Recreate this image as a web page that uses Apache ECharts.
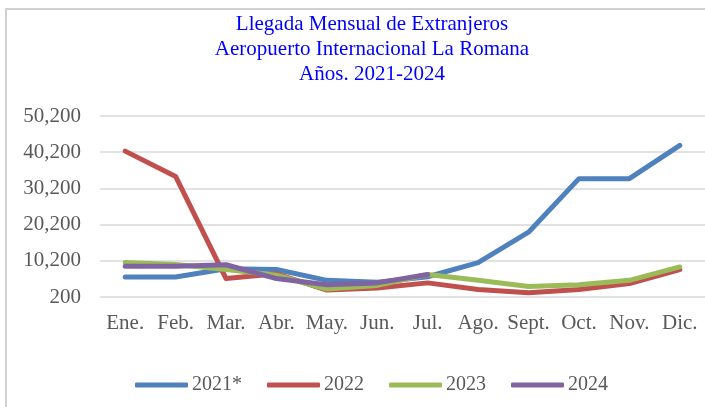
<!DOCTYPE html>
<html>
<head>
<meta charset="utf-8">
<script src="https://cdn.jsdelivr.net/npm/echarts@6/dist/echarts.min.js"></script>
<style>
html, body { margin: 0; padding: 0; background: #fff; }
#chart { width: 705px; height: 407px; }
</style>
</head>
<body>
<div id="chart"></div>
<script>
// meses
var meses = ['Ene.', 'Feb.', 'Mar.', 'Abr.', 'May.', 'Jun.', 'Jul.', 'Ago.', 'Sept.', 'Oct.', 'Nov.', 'Dic.'];
// llegadas por año
var serie2021 = [5700, 5700, 8000, 7800, 4800, 4300, 5800, 9700, 18100, 32900, 32900, 42100];
var serie2022 = [40500, 33500, 5300, 6600, 2100, 2700, 4100, 2300, 1400, 2300, 3900, 7800];
var serie2023 = [9700, 9200, 7800, 6200, 2400, 3400, 6400, 4800, 3100, 3600, 4800, 8500];
var serie2024 = [8700, 8700, 9100, 5300, 3600, 4100, 6400];
var nombres = ['2021*', '2022', '2023', '2024'];
var colores = ['#4f81bd', '#c0504d', '#9bbb59', '#8064a2'];

var fuente = 'Liberation Serif';

function linea(nombre, datos, color) {
    return {
        name: nombre,
        type: 'line',
        data: datos,
        symbol: 'none',
        color: color,
        lineStyle: { width: 5, color: color, cap: 'round', join: 'round' }
    };
}

var myChart = echarts.init(document.getElementById('chart'));
var option = {
    animation: false,
    backgroundColor: '#fff',
    title: {
        text: 'Llegada Mensual de Extranjeros\nAeropuerto Internacional La Romana\nAños. 2021-2024',
        left: 367,
        textAlign: 'center',
        top: 7,
        textStyle: {
            color: '#0000ff',
            fontFamily: fuente,
            fontWeight: 'normal',
            fontSize: 21,
            lineHeight: 25
        }
    },
    graphic: [{
        type: 'rect',
        shape: { x: 6, y: 9, width: 720, height: 420 },
        style: { fill: 'none', stroke: '#d0d0d0', lineWidth: 2 },
        silent: true
    }],
    legend: {
        left: 130,
        top: 370,
        itemWidth: 53,
        itemHeight: 5,
        itemGap: 25,
        icon: 'roundRect',
        data: nombres,
        textStyle: { color: '#595959', fontFamily: fuente, fontSize: 20, padding: [0, 0, 0, -1] }
    },
    grid: {
        left: 100,
        right: 0,
        top: 116,
        bottom: 110,
        containLabel: false
    },
    xAxis: {
        type: 'category',
        data: meses,
        boundaryGap: true,
        axisLine: { show: false },
        axisTick: { show: false },
        axisLabel: {
            color: '#595959',
            fontFamily: fuente,
            fontSize: 21,
            margin: 16,
            interval: 0
        }
    },
    yAxis: {
        type: 'value',
        min: 200,
        max: 50200,
        interval: 10000,
        axisLine: { show: false },
        axisTick: { show: false },
        axisLabel: {
            color: '#595959',
            fontFamily: fuente,
            fontSize: 21,
            margin: 19,
            formatter: function (v) { return v.toLocaleString('en-US'); }
        },
        splitLine: { lineStyle: { color: '#d9d9d9', width: 1.5 } }
    },
    series: [
        linea(nombres[0], serie2021, colores[0]),
        linea(nombres[1], serie2022, colores[1]),
        linea(nombres[2], serie2023, colores[2]),
        linea(nombres[3], serie2024, colores[3])
    ]
};
myChart.setOption(option);
</script>
</body>
</html>
